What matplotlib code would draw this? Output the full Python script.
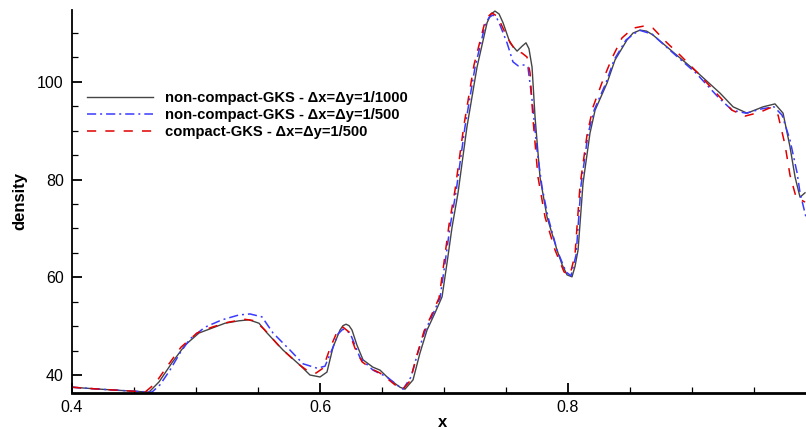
import numpy as np
import matplotlib
matplotlib.use('Agg')
import matplotlib.pyplot as plt
from matplotlib.ticker import MultipleLocator

plt.rcParams['font.family'] = ['Liberation Sans', 'DejaVu Sans']

# density along the cut, fine non-compact run (1/1000)
x_nc1000 = [0.400, 0.4226, 0.4484, 0.4621, 0.4702, 0.4806, 0.4911, 0.5024, 0.5129, 0.5234,
            0.5347, 0.5427, 0.5508, 0.5573, 0.5702, 0.5839, 0.5919, 0.6000, 0.6056, 0.6105,
            0.6161, 0.6185, 0.6210, 0.6234, 0.6258, 0.6298, 0.6347, 0.6427, 0.6484, 0.6565,
            0.6645, 0.6685, 0.6750, 0.6806, 0.6863, 0.6927, 0.6984, 0.7024, 0.7065, 0.7113,
            0.7185, 0.7266, 0.7347, 0.7379, 0.7411, 0.7444, 0.7476, 0.7532, 0.7589, 0.7629,
            0.7661, 0.7685, 0.7710, 0.7734, 0.7774, 0.7831, 0.7911, 0.7952, 0.7992, 0.8032,
            0.8056, 0.8081, 0.8121, 0.8177, 0.8218, 0.8315, 0.8379, 0.8476, 0.8524, 0.8581,
            0.8633, 0.8685, 0.8847, 0.9040, 0.9226, 0.9331, 0.9444, 0.9573, 0.9669, 0.9734,
            0.9790, 0.9831, 0.9871, 0.9911]
rho_nc1000 = [37.5, 37.1, 36.7, 36.5, 38.6, 42.5, 46.1, 48.6, 49.6, 50.6,
              51.1, 51.3, 50.6, 48.6, 45.1, 42.0, 40.0, 39.6, 40.6, 45.7,
              49.2, 50.1, 50.4, 50.1, 49.2, 46.1, 43.1, 41.6, 41.0, 39.0,
              37.5, 37.1, 39.0, 44.5, 49.2, 52.7, 56.0, 62.9, 70.3, 77.3,
              90.8, 103.0, 112.1, 113.9, 114.5, 113.9, 112.1, 108.0, 106.3, 107.3,
              108.0, 106.8, 103.0, 92.8, 80.5, 72.3, 65.6, 62.6, 60.5, 60.1,
              62.2, 65.6, 79.3, 89.5, 94.2, 99.8, 104.5, 108.6, 110.0, 110.6,
              110.4, 109.6, 106.1, 102.0, 97.7, 94.9, 93.6, 94.9, 95.5, 93.6,
              86.7, 80.5, 76.4, 77.3]

# non-compact, 1/500
x_nc500 = [0.400, 0.4226, 0.4484, 0.4645, 0.4710, 0.4790, 0.4871, 0.4952, 0.5073, 0.5210,
           0.5347, 0.5435, 0.5532, 0.5621, 0.5758, 0.5863, 0.5976, 0.6040, 0.6105, 0.6145,
           0.6185, 0.6242, 0.6323, 0.6427, 0.6540, 0.6645, 0.6669, 0.6734, 0.6790, 0.6847,
           0.6911, 0.6968, 0.7008, 0.7048, 0.7097, 0.7169, 0.7250, 0.7331, 0.7363, 0.7395,
           0.7427, 0.7452, 0.7508, 0.7556, 0.7597, 0.7653, 0.7677, 0.7710, 0.7750, 0.7790,
           0.7839, 0.7911, 0.7984, 0.8024, 0.8065, 0.8105, 0.8161, 0.8210, 0.8306, 0.8371,
           0.8468, 0.8573, 0.8677, 0.8839, 0.9032, 0.9210, 0.9323, 0.9435, 0.9565, 0.9661,
           0.9726, 0.9790, 0.9847, 0.9871, 0.9919]
rho_nc500 = [37.5, 37.1, 36.7, 36.5, 38.0, 41.0, 44.5, 47.4, 49.8, 51.3,
             52.3, 52.5, 51.9, 48.6, 45.1, 42.3, 41.4, 41.8, 45.7, 48.4,
             49.4, 48.6, 43.5, 41.0, 39.6, 37.5, 37.1, 39.6, 44.7, 49.0,
             52.5, 55.8, 62.9, 70.3, 77.5, 90.8, 103.0, 111.6, 113.2, 113.7,
             113.0, 111.6, 108.0, 104.1, 103.3, 103.5, 103.0, 96.3, 86.1, 78.5,
             72.3, 65.6, 61.1, 60.3, 64.6, 78.9, 89.3, 94.2, 99.8, 104.5,
             108.6, 110.6, 109.8, 106.1, 101.8, 96.9, 94.2, 93.6, 94.5, 94.9,
             93.2, 88.1, 81.4, 77.3, 72.3]

# compact, 1/500
x_c500 = [0.400, 0.4226, 0.4484, 0.4589, 0.4669, 0.4774, 0.4879, 0.5008, 0.5129, 0.5258,
          0.5395, 0.5476, 0.5556, 0.5685, 0.5823, 0.5903, 0.5968, 0.6024, 0.6081, 0.6137,
          0.6185, 0.6234, 0.6282, 0.6339, 0.6419, 0.6484, 0.6565, 0.6629, 0.6669, 0.6726,
          0.6782, 0.6839, 0.6903, 0.6960, 0.7000, 0.7040, 0.7089, 0.7161, 0.7242, 0.7323,
          0.7355, 0.7387, 0.7419, 0.7452, 0.7508, 0.7573, 0.7629, 0.7669, 0.7694, 0.7718,
          0.7758, 0.7815, 0.7895, 0.7968, 0.8016, 0.8056, 0.8097, 0.8153, 0.8202, 0.8282,
          0.8355, 0.8435, 0.8524, 0.8605, 0.8685, 0.8798, 0.8903, 0.9040, 0.9210, 0.9323,
          0.9427, 0.9548, 0.9629, 0.9694, 0.9750, 0.9790, 0.9839, 0.9911]
rho_c500 = [37.5, 37.1, 36.7, 36.5, 38.2, 42.0, 45.7, 48.6, 49.8, 50.8,
            51.4, 51.1, 49.2, 45.5, 42.3, 40.8, 40.4, 41.4, 45.5, 48.8,
            49.8, 48.8, 45.5, 42.7, 41.2, 40.4, 38.8, 37.5, 37.1, 38.8,
            44.1, 49.0, 52.5, 55.8, 63.1, 70.7, 77.9, 91.2, 103.5, 111.6,
            113.4, 114.1, 113.6, 112.3, 109.2, 106.5, 105.9, 105.1, 101.8, 92.2,
            80.5, 72.3, 65.6, 61.1, 60.5, 64.6, 78.9, 89.1, 94.9, 100.4,
            104.9, 109.0, 111.0, 111.4, 111.0, 108.0, 105.5, 102.0, 97.3, 94.2,
            93.0, 93.8, 94.7, 93.2, 87.1, 80.9, 76.4, 75.4]

labels = ['non-compact-GKS - \u0394x=\u0394y=1/1000',
          'non-compact-GKS - \u0394x=\u0394y=1/500',
          'compact-GKS - \u0394x=\u0394y=1/500']

fig = plt.figure(figsize=(8.06, 4.29), dpi=100)
ax = fig.add_axes([72/806, 36.3/429, 1 - 72/806, 382.7/429])

ax.plot(x_nc1000, rho_nc1000, color='#444444', lw=1.0, label=labels[0])
ax.plot(x_nc500, rho_nc500, color='#3a3aff', lw=1.1, linestyle=(0, (6, 2.6, 1.3, 2.6)), label=labels[1])
ax.plot(x_c500, rho_c500, color='#e00000', lw=1.1, linestyle=(0, (6, 6)), label=labels[2])

ax.set_xlim(0.4, 0.9919)
ax.set_ylim(36.38, 114.72)

for s in ['top', 'right']:
    ax.spines[s].set_visible(False)
ax.spines['left'].set_linewidth(1.3)
ax.spines['bottom'].set_linewidth(2.0)

ax.xaxis.set_minor_locator(MultipleLocator(0.05))
ax.yaxis.set_minor_locator(MultipleLocator(5))
ax.set_xticks([0.4, 0.6, 0.8])
ax.set_xticklabels(['0.4', '0.6', '0.8'])
ax.set_yticks([40, 60, 80, 100])
ax.tick_params(which='major', direction='in', length=7.5, width=1.3, labelsize=11.5, pad=5)
ax.tick_params(which='minor', direction='in', length=4.5, width=0.9)
ax.tick_params(axis='y', which='major', pad=6)

ax.set_xlabel('x', fontsize=12, fontweight='bold')
ax.xaxis.set_label_coords((443 - 72) / 734, -0.057)
ax.set_ylabel('density', fontsize=12, fontweight='bold', labelpad=7)

leg = ax.legend(loc='upper left', bbox_to_anchor=(87/806, 1 - 91/429), bbox_transform=fig.transFigure,
                frameon=False, fontsize=10.6, handlelength=4.5, handletextpad=0.8,
                labelspacing=0.2, borderpad=0, borderaxespad=0)
for t in leg.get_texts():
    t.set_fontweight('bold')

fig.savefig('out.png', dpi=100)
